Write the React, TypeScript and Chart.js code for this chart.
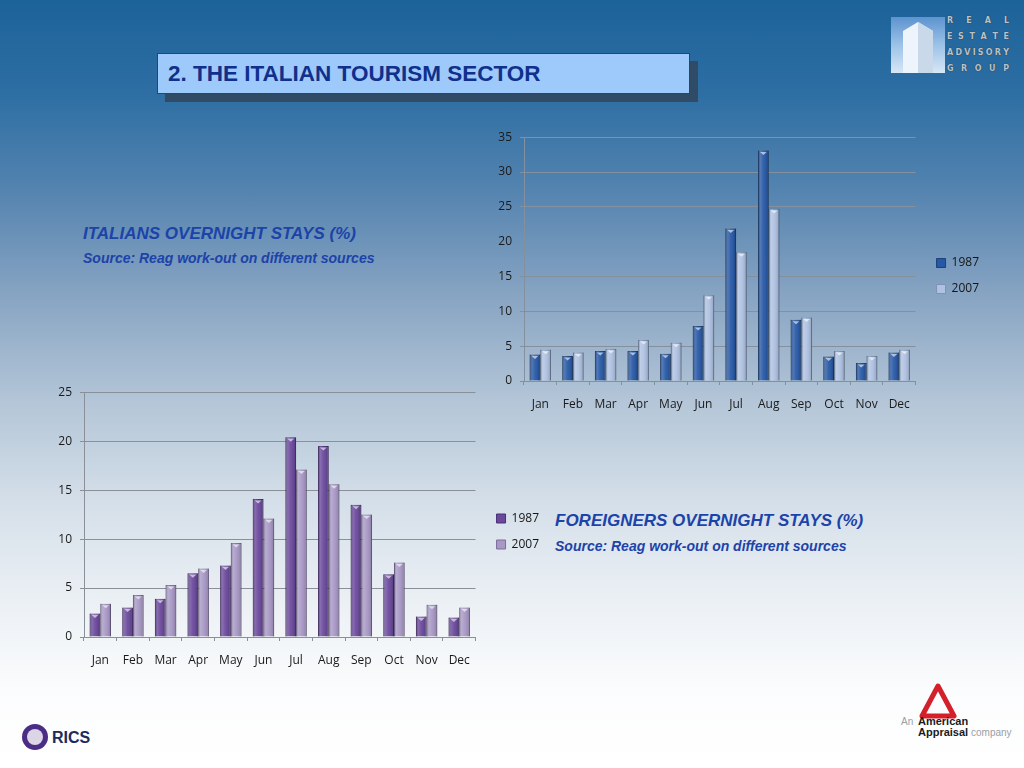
import React, { useEffect, useRef } from "react";
import { Chart, registerables } from "chart.js";

Chart.register(...registerables);

const months = ["Jan", "Feb", "Mar", "Apr", "May", "Jun", "Jul", "Aug", "Sep", "Oct", "Nov", "Dec"];
const seriesLabels = ["1987", "2007"];
const italians1987 = [3.8, 3.6, 4.3, 4.3, 3.9, 7.9, 21.9, 33.1, 8.8, 3.5, 2.6, 4.1];
const italians2007 = [4.5, 4.1, 4.6, 5.9, 5.5, 12.3, 18.5, 24.7, 9.1, 4.3, 3.6, 4.5];
const foreigners1987 = [2.4, 3.0, 3.9, 6.5, 7.3, 14.1, 20.4, 19.5, 13.5, 6.4, 2.1, 2.0];
const foreigners2007 = [3.4, 4.3, 5.3, 7.0, 9.6, 12.1, 17.1, 15.6, 12.5, 7.6, 3.3, 3.0];
const italiansMax = 35;
const foreignersMax = 25;
const tickStep = 5;

const shadePlugin = {
  id: "shade",
  afterDatasetsDraw(chart: any) {
    const ctx = chart.ctx;
    chart.data.datasets.forEach((_ds: any, i: number) => {
      const meta = chart.getDatasetMeta(i);
      meta.data.forEach((bar: any) => {
        const { x, y, base, width } = bar.getProps(["x", "y", "base", "width"], true);
        const left = x - width / 2;
        const right = x + width / 2;
        const g = ctx.createLinearGradient(left, 0, right, 0);
        g.addColorStop(0, "rgba(0,0,0,0.30)");
        g.addColorStop(0.22, "rgba(255,255,255,0.20)");
        g.addColorStop(0.5, "rgba(255,255,255,0.06)");
        g.addColorStop(0.85, "rgba(0,0,0,0.10)");
        g.addColorStop(1, "rgba(0,0,0,0.32)");
        ctx.save();
        ctx.fillStyle = g;
        ctx.fillRect(left, y, width, base - y);
        ctx.fillStyle = "rgba(255,255,255,0.6)";
        ctx.beginPath();
        ctx.moveTo(left + 2, y + 1.5);
        ctx.lineTo(right - 2, y + 1.5);
        ctx.lineTo(x, y + 4.5);
        ctx.closePath();
        ctx.fill();
        ctx.restore();
      });
    });
  },
};

type BarProps = {
  left: number;
  top: number;
  width: number;
  height: number;
  a: number[];
  b: number[];
  max: number;
  colA: string;
  colB: string;
  edgeA: string;
  edgeB: string;
  grid: string;
  xh: number;
  padTop: number;
};

function BarChart(p: BarProps) {
  const ref = useRef<HTMLCanvasElement>(null);
  useEffect(() => {
    const font = { family: "'Open Sans', sans-serif", size: 12 };
    const chart = new Chart(ref.current as HTMLCanvasElement, {
      type: "bar",
      data: {
        labels: months,
        datasets: [
          { label: seriesLabels[0], data: p.a, backgroundColor: p.colA, borderColor: p.edgeA, borderWidth: 1 },
          { label: seriesLabels[1], data: p.b, backgroundColor: p.colB, borderColor: p.edgeB, borderWidth: 1 },
        ],
      },
      options: {
        responsive: false,
        animation: false,
        devicePixelRatio: 1,
        layout: { padding: { top: p.padTop, left: 0, right: 0, bottom: 0 } },
        datasets: { bar: { categoryPercentage: 0.655, barPercentage: 1 } } as any,
        plugins: {
          legend: {
            position: "right",
            labels: {
              boxWidth: 9,
              boxHeight: 9,
              padding: 14,
              color: "#151515",
              font: { family: "'Open Sans', sans-serif", size: 12 },
            },
          },
          tooltip: { enabled: false },
        },
        scales: {
          x: {
            grid: { drawOnChartArea: false, tickLength: 4, color: p.grid, offset: true },
            border: { color: p.grid },
            ticks: { font, color: "#1a1a1a", padding: 12, maxRotation: 0 },
            afterFit: (s: any) => {
              s.height = p.xh;
            },
          },
          y: {
            min: 0,
            max: p.max,
            ticks: { stepSize: tickStep, font, color: "#1a1a1a", padding: 8 },
            grid: { color: p.grid, tickLength: 4 },
            border: { color: p.grid },
            afterFit: (s: any) => {
              s.width = 54;
            },
          },
          gap: {
            type: "linear",
            position: "right",
            grid: { display: false },
            border: { display: false },
            ticks: { display: false },
            afterFit: (s: any) => {
              s.width = 7;
            },
          },
        } as any,
      },
      plugins: [shadePlugin],
    });
    return () => chart.destroy();
  }, []);
  return (
    <canvas
      ref={ref}
      width={p.width}
      height={p.height}
      style={{ position: "absolute", left: p.left, top: p.top, width: p.width, height: p.height }}
    />
  );
}

const blueText = "#1c43a8";

function Txt(props: { x: number; y: number; size: number; children: any; style?: any }) {
  return (
    <div
      style={{
        position: "absolute",
        left: props.x,
        top: props.y - props.size * 0.6,
        fontSize: props.size,
        lineHeight: 1.2 + "",
        whiteSpace: "nowrap",
        fontFamily: "'Liberation Sans', Arial, sans-serif",
        ...props.style,
      }}
    >
      {props.children}
    </div>
  );
}

function LogoRow(props: { y: number; text: string }) {
  return (
    <div
      style={{
        position: "absolute",
        left: 947,
        top: props.y - 5,
        width: 62,
        display: "flex",
        justifyContent: "space-between",
        fontFamily: "'DejaVu Sans', sans-serif",
        fontWeight: "bold",
        fontSize: 8,
        lineHeight: "10px",
        color: "#b9c2cc",
        textShadow: "0 0 1px #222",
      }}
    >
      {props.text.split("").map((c, i) => (
        <span key={i}>{c}</span>
      ))}
    </div>
  );
}

export default function App() {
  return (
    <div
      style={{
        position: "fixed",
        left: 0,
        top: 0,
        width: 1024,
        height: 768,
        overflow: "hidden",
        background:
          "linear-gradient(to bottom, #1c639a 0%, #2d6ea3 12%, #5584b0 25%, #86a3c2 38%, #b3c5d7 52%, #d6e0ea 66%, #eef2f6 80%, #fbfcfd 90%, #ffffff 100%)",
      }}
    >
      {/* title */}
      <div style={{ position: "absolute", left: 165, top: 61, width: 533, height: 41, background: "#2f4b66" }} />
      <div
        style={{
          position: "absolute",
          left: 157,
          top: 53,
          width: 531,
          height: 39,
          background: "#9dcafb",
          border: "1.5px solid #1b3fae",
        }}
      />
      <Txt x={168} y={73} size={22.5} style={{ fontWeight: "bold", color: "#10308c" }}>
        2. THE ITALIAN TOURISM SECTOR
      </Txt>

      <Txt x={83} y={234} size={17} style={{ fontWeight: "bold", fontStyle: "italic", color: blueText }}>
        ITALIANS OVERNIGHT STAYS (%)
      </Txt>
      <Txt x={83} y={258} size={14} style={{ fontWeight: "bold", fontStyle: "italic", color: blueText }}>
        Source: Reag work-out on different sources
      </Txt>
      <Txt x={555} y={521} size={17} style={{ fontWeight: "bold", fontStyle: "italic", color: blueText }}>
        FOREIGNERS OVERNIGHT STAYS (%)
      </Txt>
      <Txt x={555} y={546} size={14} style={{ fontWeight: "bold", fontStyle: "italic", color: blueText }}>
        Source: Reag work-out on different sources
      </Txt>

      <BarChart
        left={470}
        top={122}
        width={519}
        height={298}
        a={italians1987}
        b={italians2007}
        max={italiansMax}
        colA="#2758a5"
        colB="#afc2e2"
        edgeA="#1d427a"
        edgeB="#7f92b5"
        grid="#84909d"
        xh={39}
        padTop={10}
      />
      <BarChart
        left={30}
        top={377}
        width={519}
        height={298}
        a={foreigners1987}
        b={foreigners2007}
        max={foreignersMax}
        colA="#6a489c"
        colB="#a898c6"
        edgeA="#4a2f75"
        edgeB="#7c6e9e"
        grid="#8b9098"
        xh={38}
        padTop={11}
      />

      {/* REAG logo */}
      <div
        style={{
          position: "absolute",
          left: 891,
          top: 17,
          width: 54,
          height: 56,
          background: "linear-gradient(to bottom, #5d93cf 0%, #9cc2e8 50%, #d7e7f6 100%)",
          overflow: "hidden",
        }}
      >
        <svg width={54} height={56}>
          <polygon points="12,56 12,14 27,5 42,14 42,56" fill="#eef4fb" />
          <polygon points="27,5 42,14 42,56 27,56" fill="#c9d9ea" />
        </svg>
      </div>
      <LogoRow y={21} text="REAL" />
      <LogoRow y={37} text="ESTATE" />
      <LogoRow y={53} text="ADVISORY" />
      <LogoRow y={69} text="GROUP" />

      {/* RICS logo */}
      <div
        style={{
          position: "absolute",
          left: 22,
          top: 724,
          width: 26,
          height: 26,
          borderRadius: 13,
          background: "#4b2d86",
        }}
      />
      <div
        style={{
          position: "absolute",
          left: 27,
          top: 729,
          width: 16,
          height: 16,
          borderRadius: 8,
          background: "#ffffff",
          opacity: 0.8,
        }}
      />
      <Txt x={52} y={738} size={16} style={{ fontWeight: "bold", color: "#1c2a5c" }}>
        RICS
      </Txt>

      {/* American Appraisal logo */}
      <svg style={{ position: "absolute", left: 918, top: 682 }} width={40} height={40}>
        <polygon points="20,4 36,34 4,34" fill="none" stroke="#d3202a" strokeWidth={5} strokeLinejoin="round" />
      </svg>
      <Txt x={901} y={722} size={10} style={{ color: "#9aa0a6" }}>
        An
      </Txt>
      <Txt x={918} y={722} size={11} style={{ fontWeight: "bold", color: "#1a1a1a" }}>
        American
      </Txt>
      <Txt x={918} y={733} size={11} style={{ fontWeight: "bold", color: "#1a1a1a" }}>
        Appraisal
      </Txt>
      <Txt x={971} y={733} size={10} style={{ color: "#9aa0a6" }}>
        company
      </Txt>
    </div>
  );
}
